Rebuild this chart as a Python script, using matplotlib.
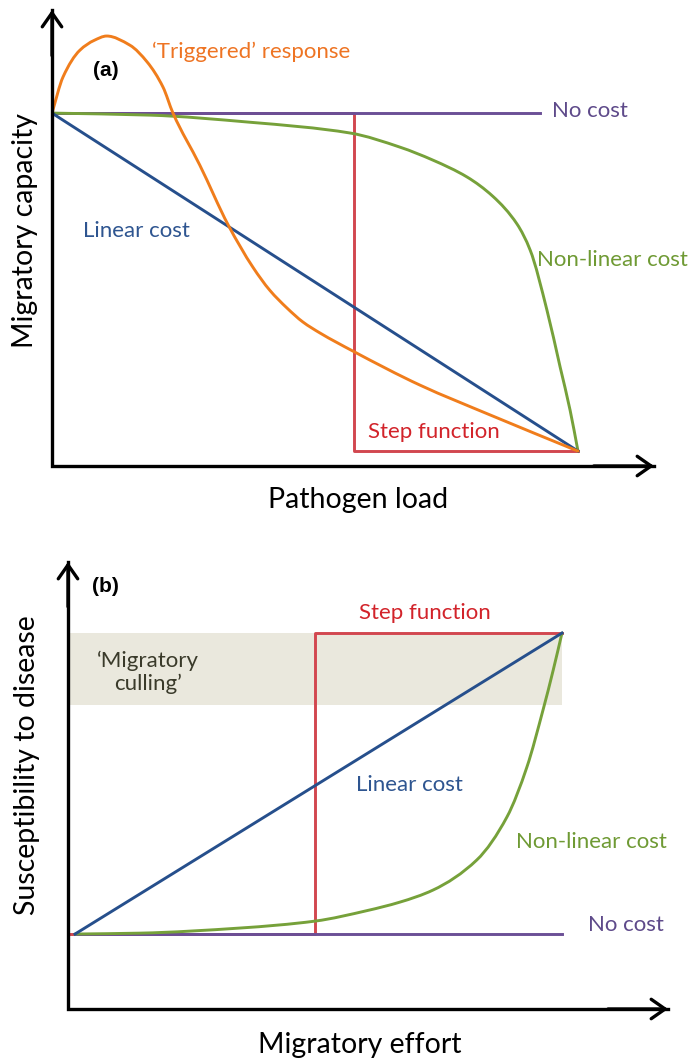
import numpy as np
import matplotlib
matplotlib.use("Agg")
import matplotlib.pyplot as plt
from matplotlib.path import Path
from matplotlib.patches import PathPatch

plt.rcParams['font.family'] = ['Lato', 'DejaVu Sans']

# ---- panel (a): migratory capacity vs pathogen load ----
a_linear_x = [0, 1]
a_linear_y = [1, 0]
a_nocost_x = [0, 0.928]
a_nocost_y = [1, 1]
a_step_x = [0, 0.574, 0.574, 1.0]
a_step_y = [1, 1, 0, 0]
a_trig_x = [0, 0.021, 0.053, 0.080, 0.104, 0.148, 0.181, 0.211, 0.230, 0.281,
            0.335, 0.382, 0.414, 0.447, 0.477, 0.510, 0.572, 0.700, 0.833, 1.0]
a_trig_y = [1.0, 1.107, 1.186, 1.215, 1.228, 1.201, 1.151, 1.077, 1.0, 0.846,
            0.669, 0.544, 0.476, 0.423, 0.382, 0.349, 0.296, 0.195, 0.107, 0.0]
a_nonlin_x = [0, 0.186, 0.376, 0.567, 0.662, 0.724, 0.789, 0.838, 0.884, 0.909,
              0.941, 0.966, 0.985, 1.0]
a_nonlin_y = [1.0, 0.994, 0.973, 0.941, 0.899, 0.861, 0.811, 0.754, 0.672, 0.595,
              0.417, 0.249, 0.121, 0.0]

# ---- panel (b): susceptibility vs migratory effort ----
b_linear_x = [0, 1]
b_linear_y = [0, 1]
b_nocost_x = [0, 1]
b_nocost_y = [0, 0]
b_step_x = [-0.014, 0.493, 0.493, 1.0]
b_step_y = [0, 0, 1, 1]
b_nonlin_x = [0, 0.133, 0.339, 0.493, 0.600, 0.667, 0.735, 0.825, 0.887,
              0.928, 0.961, 0.982, 1.0]
b_nonlin_y = [0, 0.003, 0.020, 0.043, 0.078, 0.106, 0.146, 0.246, 0.389,
              0.555, 0.744, 0.877, 1.0]
b_cull_band = (0.761, 1.0)

c_orange = '#f07d1c'
c_blue = '#264f8c'
c_green = '#76a13a'
c_purple = '#6b4f96'
c_red = '#d2474f'
t_red = '#d2232a'
t_blue = '#2e5590'
t_green = '#6f9a34'
t_purple = '#5e4a8a'
t_orange = '#ee7423'

W, H = 688, 1060
fig = plt.figure(figsize=(W / 100, H / 100), dpi=100)


def make_axes(left, right, bottom, top):
    # pixel box -> figure fraction
    ax = fig.add_axes([left / W, 1 - bottom / H, (right - left) / W, (bottom - top) / H])
    ax.set_axis_off()
    return ax


def draw_arrows(ax):
    lw = 2.4
    ax.plot([0, 0, 1], [1, 0, 0], transform=ax.transAxes, color='black', lw=lw,
            solid_joinstyle='miter', clip_on=False, zorder=5)
    for tip, start in [((0, 1), (0, 0.9)), ((1, 0), (0.9, 0))]:
        ax.annotate('', xy=tip, xytext=start, xycoords='axes fraction',
                    arrowprops=dict(arrowstyle='->, head_length=0.5, head_width=0.35',
                                    lw=lw, color='black', shrinkA=0, shrinkB=0,
                                    mutation_scale=20), zorder=5)


def smooth_curve(ax, xs, ys, **kw):
    # bezier segments through the read points, pchip-style tangents
    x = np.asarray(xs, float)
    y = np.asarray(ys, float)
    h = np.diff(x)
    d = np.diff(y) / h
    m = np.zeros_like(x)
    m[0], m[-1] = d[0], d[-1]
    for i in range(1, len(x) - 1):
        if d[i - 1] * d[i] > 0:
            w1 = 2 * h[i] + h[i - 1]
            w2 = h[i] + 2 * h[i - 1]
            m[i] = (w1 + w2) / (w1 / d[i - 1] + w2 / d[i])
    verts = [(x[0], y[0])]
    codes = [Path.MOVETO]
    for i in range(len(x) - 1):
        verts += [(x[i] + h[i] / 3, y[i] + m[i] * h[i] / 3),
                  (x[i + 1] - h[i] / 3, y[i + 1] - m[i + 1] * h[i] / 3),
                  (x[i + 1], y[i + 1])]
        codes += [Path.CURVE4] * 3
    ax.add_patch(PathPatch(Path(verts, codes), fill=False, capstyle='round', **kw))


lw = 2.1
fs = 16

# panel (a)
ax1 = make_axes(52, 654, 466, 10)
ax1.set_xlim(0, 1.1445)
ax1.set_ylim(-0.044, 1.305)
draw_arrows(ax1)
ax1.plot(a_step_x, a_step_y, color=c_red, lw=lw, zorder=2)
ax1.plot(a_nocost_x, a_nocost_y, color=c_purple, lw=lw, zorder=3)
smooth_curve(ax1, a_nonlin_x, a_nonlin_y, edgecolor=c_green, lw=lw, zorder=3)
ax1.plot(a_linear_x, a_linear_y, color=c_blue, lw=lw, zorder=3)
smooth_curve(ax1, a_trig_x, a_trig_y, edgecolor=c_orange, lw=lw, zorder=4)

ax1.text(0.190, 1.180, "\u2018Triggered\u2019 response", color=t_orange, fontsize=fs,
         va='center', ha='left')
ax1.text(0.103, 1.127, "(a)", fontsize=15, fontweight='bold', va='center', ha='center',
         family=['Liberation Sans', 'DejaVu Sans'])
ax1.text(0.951, 1.006, "No cost", color=t_purple, fontsize=fs, va='center', ha='left')
ax1.text(0.059, 0.651, "Linear cost", color=t_blue, fontsize=fs, va='center', ha='left')
ax1.text(0.922, 0.565, "Non-linear cost", color=t_green, fontsize=fs, va='center', ha='left')
ax1.text(0.601, 0.056, "Step function", color=t_red, fontsize=fs, va='center', ha='left')
fig.text(25 / W, 1 - 230 / H, "Migratory capacity", rotation=90, fontsize=20.5,
         va='center', ha='center')
fig.text(358 / W, 1 - 500 / H, "Pathogen load", fontsize=20.5, va='center', ha='center')

# panel (b)
ax2 = make_axes(68, 668, 1009, 562)
ax2.set_xlim(-0.0144, 1.2177)
ax2.set_ylim(-0.249, 1.236)
ax2.axhspan(b_cull_band[0], b_cull_band[1], xmin=0, xmax=(1.0 + 0.0144) / (1.2177 + 0.0144),
            color='#eae8dd', lw=0, zorder=1)
draw_arrows(ax2)
ax2.plot(b_step_x, b_step_y, color=c_red, lw=lw, zorder=2)
ax2.plot(b_nocost_x, b_nocost_y, color=c_purple, lw=lw, zorder=3)
smooth_curve(ax2, b_nonlin_x, b_nonlin_y, edgecolor=c_green, lw=lw, zorder=3)
ax2.plot(b_linear_x, b_linear_y, color=c_blue, lw=lw, zorder=3)

ax2.text(0.062, 1.156, "(b)", fontsize=15, fontweight='bold', va='center', ha='center',
         family=['Liberation Sans', 'DejaVu Sans'])
ax2.text(0.719, 1.066, "Step function", color=t_red, fontsize=fs, va='center', ha='center')
ax2.text(0.150, 0.870, "\u2018Migratory\nculling\u2019", color='#3a3a2a', fontsize=fs,
         va='center', ha='center', linespacing=1.15)
ax2.text(0.577, 0.495, "Linear cost", color=t_blue, fontsize=fs, va='center', ha='left')
ax2.text(0.906, 0.306, "Non-linear cost", color=t_green, fontsize=fs, va='center', ha='left')
ax2.text(1.053, 0.030, "No cost", color=t_purple, fontsize=fs, va='center', ha='left')
fig.text(27 / W, 1 - 765 / H, "Susceptibility to disease", rotation=90, fontsize=20.5,
         va='center', ha='center')
fig.text(360 / W, 1 - 1045 / H, "Migratory effort", fontsize=20.5, va='center', ha='center')

fig.savefig("out.png", dpi=100)
